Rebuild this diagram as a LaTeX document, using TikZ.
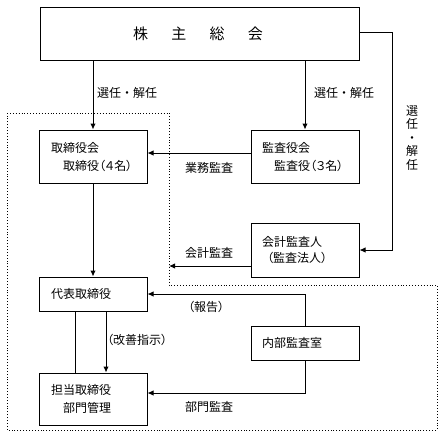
\documentclass[tikz,border=0pt]{standalone}
\usepackage{fontspec}
\newfontfamily\jp{Noto Sans CJK JP}
\newfontfamily\jpp[RawFeature=+palt]{Noto Sans CJK JP}
\usetikzlibrary{arrows.meta,calc}
\begin{document}
\begin{tikzpicture}[x=1pt,y=-1pt,
  box/.style={draw, line width=1pt, minimum width=108pt, inner sep=0pt},
  arr/.style={-{Latex[length=6pt,width=5.5pt]}, line width=1pt},
  ln/.style={line width=1pt},
  lbl/.style={font=\jp\fontsize{12}{14}\selectfont, inner sep=0pt, anchor=west},
  plbl/.style={font=\jpp\fontsize{12}{14}\selectfont, inner sep=0pt, anchor=west},
  dotbox/.style={dotted, line width=0.9pt}]
\useasboundingbox (0,0) rectangle (444,445);
% boxes
\node[box, minimum width=319pt, minimum height=53pt] (top) at (199.5,33.5) {};
\node[box, minimum height=53pt] (board) at (93,156.5) {};
\node[box, minimum height=53pt] (kansa) at (305,156.5) {};
\node[box, minimum height=54pt] (kaikei) at (305,250) {};
\node[box, minimum height=34pt] (rep) at (93,294) {};
\node[box, minimum height=34pt] (naibu) at (305,343) {};
\node[box, minimum height=52pt] (tanto) at (93,399) {};
% texts in boxes
\node[font=\jp\fontsize{15}{17}\selectfont, inner sep=0pt] (toptxt) at (198,34) {株\hspace{23.3pt}主\hspace{23.3pt}総\hspace{23.3pt}会};
\node[lbl] (b1) at (51,148) {取締役会};
\node[plbl] (b2) at (63,166) {取締役（４名）};
\node[lbl] (k1) at (262,148) {監査役会};
\node[plbl] (k2) at (274,166) {監査役（３名）};
\node[lbl] (a1) at (262,242) {会計監査人};
\node[plbl] (a2) at (267,258) {（監査法人）};
\node[lbl] (r1) at (51,294) {代表取締役};
\node[lbl] (n1) at (262,343) {内部監査室};
\node[lbl] (t1) at (51,390) {担当取締役};
\node[lbl] (t2) at (63,408) {部門管理};
% labels
\node[lbl] (l1) at (97,93) {選任・解任};
\node[lbl] (l2) at (314,93) {選任・解任};
\node[font=\jp\fontsize{12}{13.5}\selectfont, inner sep=0pt, align=center] (l3) at (412,138) {選\\任\\・\\解\\任};
\node[lbl] (l4) at (185,168) {業務監査};
\node[lbl] (l5) at (185,253) {会計監査};
\node[plbl] (l6) at (188,307) {（報告）};
\node[plbl] (l7) at (107,340) {（改善指示）};
\node[lbl] (l8) at (185,407) {部門監査};
% dotted region
\draw[dotbox] (7,113) -- (169,113) -- (169,285) -- (437,285) -- (437,430) -- (7,430) -- cycle;
% connectors
\draw[arr] (top.south -| board.north) -- (board.north);
\draw[arr] (top.south -| kansa.north) -- (kansa.north);
\draw[arr] ([yshift=1pt]top.east) -- ++(33,0) |- (kaikei.east);
\draw[arr] ([yshift=3.5pt]kansa.west) -- ([yshift=3.5pt]board.east);
\coordinate (acend) at (169,266);
\draw[arr] (kaikei.west |- acend) -- (acend);
\draw[arr] (board.south) -- (rep.north);
\draw[ln] ([xshift=-18pt]rep.south) -- ([xshift=-18pt]tanto.north);
\draw[arr] ([xshift=13pt]rep.south) -- ([xshift=13pt]tanto.north);
\draw[arr] (naibu.north) |- (rep.east);
\draw[arr] (naibu.south) |- ([yshift=6pt]tanto.east);
\end{tikzpicture}
\end{document}
